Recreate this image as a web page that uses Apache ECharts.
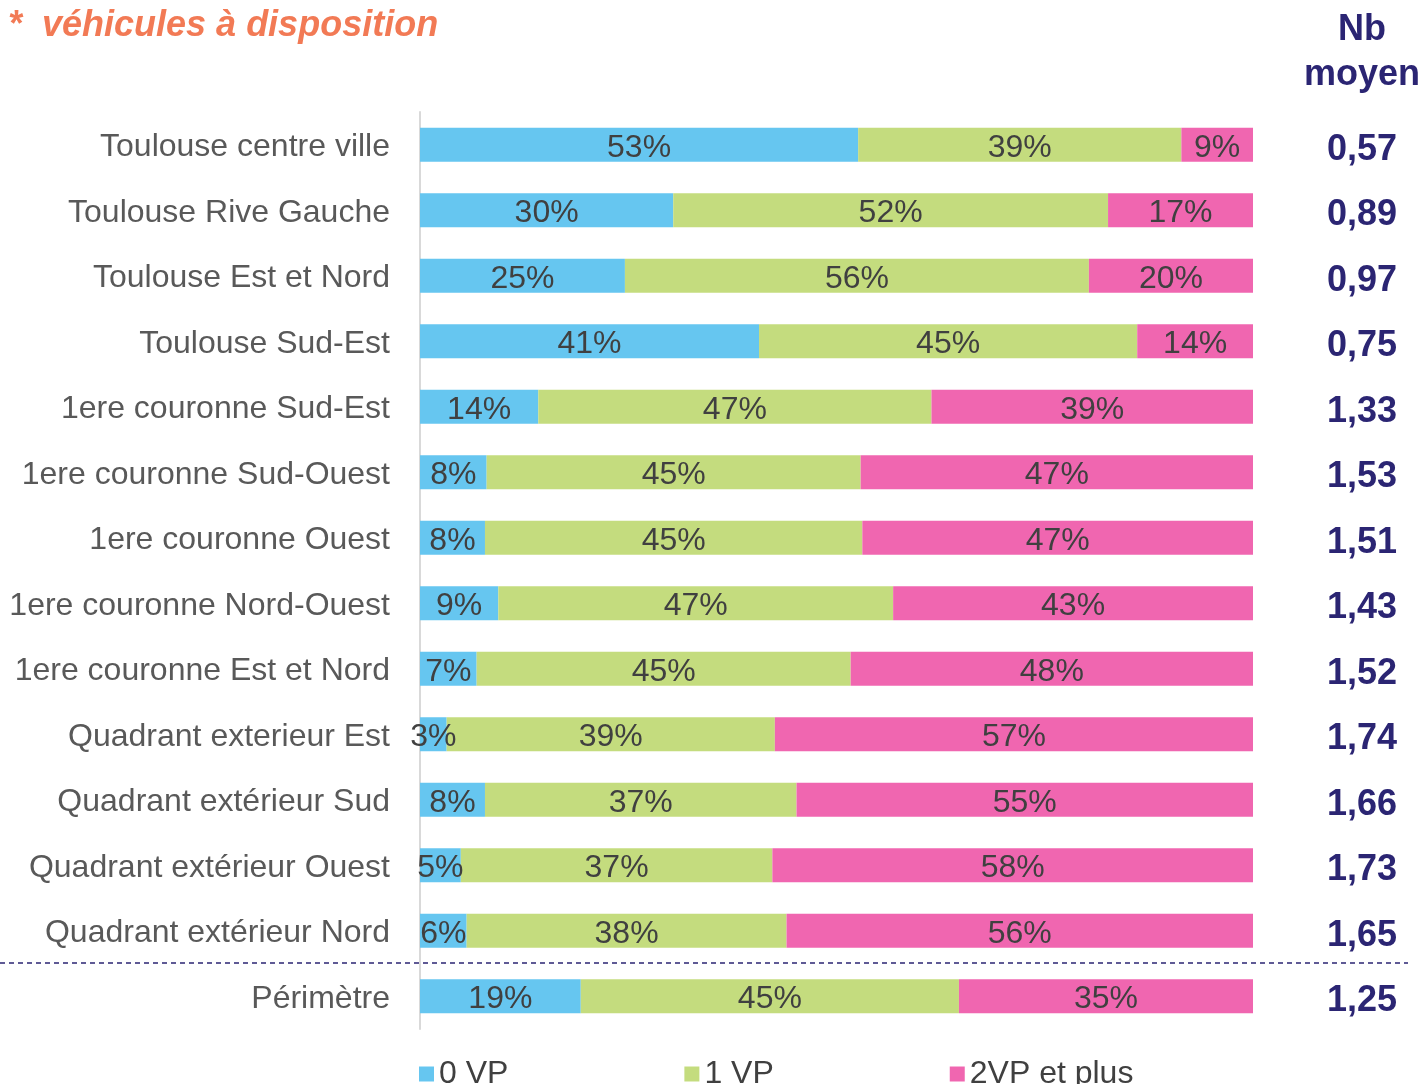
<!DOCTYPE html>
<html>
<head>
<meta charset="utf-8">
<style>
  html, body { margin: 0; padding: 0; background: #fff; }
  #chart { width: 1425px; height: 1084px; }
</style>
<script src="https://cdn.jsdelivr.net/npm/echarts@6/dist/echarts.min.js"></script>
</head>
<body>
<div id="chart"></div>
<script>
// secteurs
const categories = [
  'Toulouse centre ville',
  'Toulouse Rive Gauche',
  'Toulouse Est et Nord',
  'Toulouse Sud-Est',
  '1ere couronne Sud-Est',
  '1ere couronne Sud-Ouest',
  '1ere couronne Ouest',
  '1ere couronne Nord-Ouest',
  '1ere couronne Est et Nord',
  'Quadrant exterieur Est',
  'Quadrant extérieur Sud',
  'Quadrant extérieur Ouest',
  'Quadrant extérieur Nord',
  'Périmètre'
];

const zeroVP = [52.6, 30.4, 24.6, 40.7, 14.2, 8.0, 7.8, 9.4, 6.8, 3.2, 7.8, 4.9, 5.6, 19.3];
const oneVP  = [38.8, 52.2, 55.7, 45.4, 47.2, 44.9, 45.3, 47.4, 44.9, 39.4, 37.4, 37.4, 38.4, 45.4];
const twoVP  = [8.6, 17.4, 19.7, 13.9, 38.6, 47.1, 46.9, 43.2, 48.3, 57.4, 54.8, 57.7, 56.0, 35.3];

// nombre moyen de véhicules
const nbMoyen = ['0,57', '0,89', '0,97', '0,75', '1,33', '1,53', '1,51', '1,43', '1,52', '1,74', '1,66', '1,73', '1,65', '1,25'];

const seriesNames = ['0 VP', '1 VP', '2VP et plus'];
const colors = ['#66C6F0', '#C4DC7E', '#F066B0'];

const chart = echarts.init(document.getElementById('chart'));

const barLabel = {
  show: true,
  position: 'inside',
  offset: [0, 3],
  color: '#404040',
  fontSize: 32,
  fontFamily: 'Liberation Sans',
  formatter: p => Math.round(p.value) + '%'
};

const option = {
  animation: false,
  color: colors,
  title: {
    text: '*  véhicules à disposition',
    left: 3,
    top: 3,
    textStyle: {
      color: '#F27A55',
      fontSize: 36,
      fontStyle: 'italic',
      fontWeight: 'bold',
      fontFamily: 'Liberation Sans'
    }
  },
  legend: {
    data: seriesNames,
    left: 414,
    top: 1053,
    icon: 'rect',
    itemWidth: 15,
    itemHeight: 15,
    itemGap: 176,
    textStyle: { color: '#404040', fontSize: 32, fontFamily: 'Liberation Sans' }
  },
  grid: {
    left: 420,
    right: 172,
    top: 112,
    bottom: 55
  },
  xAxis: {
    type: 'value',
    min: 0,
    max: 100,
    show: false
  },
  yAxis: [
    {
      type: 'category',
      data: categories,
      inverse: true,
      axisLine: { show: true, lineStyle: { color: '#D9D9D9', width: 2 } },
      axisTick: { show: false },
      axisLabel: {
        margin: 30,
        formatter: v => '{c|' + v + '}',
        rich: {
          c: {
            padding: [5, 0, 0, 0],
            color: '#595959',
            fontSize: 32,
            fontFamily: 'Liberation Sans'
          }
        }
      }
    },
    {
      type: 'category',
      data: nbMoyen,
      inverse: true,
      position: 'right',
      axisLine: { show: false },
      axisTick: { show: false },
      axisLabel: {
        margin: 109,
        align: 'center',
        formatter: v => '{n|' + v + '}',
        rich: {
          n: {
            padding: [10, 0, 0, 0],
            color: '#2B2573',
            fontSize: 36,
            fontWeight: 'bold',
            fontFamily: 'Liberation Sans'
          }
        }
      }
    }
  ],
  series: [zeroVP, oneVP, twoVP].map((vals, i) => ({
    name: seriesNames[i],
    type: 'bar',
    stack: 'total',
    barWidth: 34,
    data: vals,
    label: barLabel
  })),
  graphic: [
    {
      type: 'text',
      x: 1362,
      y: 8,
      style: {
        text: 'Nb\nmoyen',
        align: 'center',
        fill: '#2B2573',
        font: 'bold 36px "Liberation Sans"',
        lineHeight: 45
      }
    },
    {
      type: 'line',
      shape: { x1: 0, y1: 963, x2: 1408, y2: 963 },
      style: { stroke: '#2B2573', lineWidth: 1.5, lineDash: [5, 4] }
    }
  ]
};

chart.setOption(option);
</script>
</body>
</html>
